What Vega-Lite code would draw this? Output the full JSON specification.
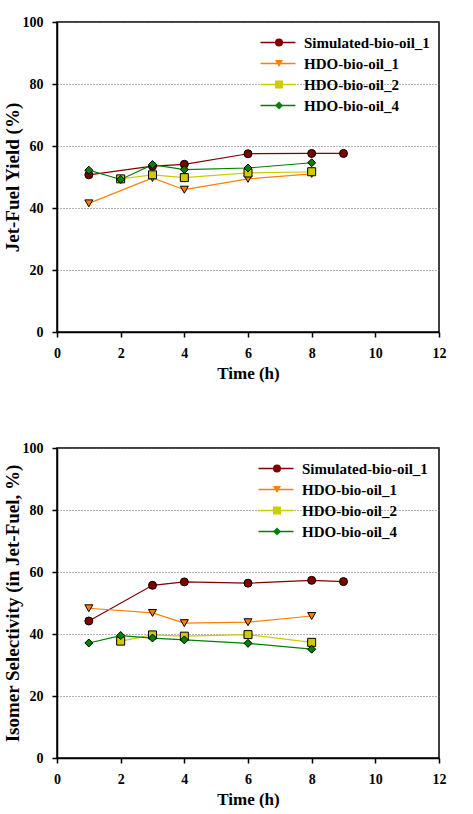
{
  "$schema": "https://vega.github.io/schema/vega-lite/v6.json",
  "background": "white",
  "padding": {"left": 2, "top": 14, "right": 5, "bottom": 0},
  "spacing": 58,
  "datasets": {
    "yield": [
      {"series": "Simulated-bio-oil_1", "time": 1, "value": 50.7},
      {"series": "Simulated-bio-oil_1", "time": 3, "value": 53.5},
      {"series": "Simulated-bio-oil_1", "time": 4, "value": 54.1},
      {"series": "Simulated-bio-oil_1", "time": 6, "value": 57.5},
      {"series": "Simulated-bio-oil_1", "time": 8, "value": 57.6},
      {"series": "Simulated-bio-oil_1", "time": 9, "value": 57.6},
      {"series": "HDO-bio-oil_1", "time": 1, "value": 41.5},
      {"series": "HDO-bio-oil_1", "time": 3, "value": 49.7},
      {"series": "HDO-bio-oil_1", "time": 4, "value": 45.9},
      {"series": "HDO-bio-oil_1", "time": 6, "value": 49.4},
      {"series": "HDO-bio-oil_1", "time": 8, "value": 51.0},
      {"series": "HDO-bio-oil_2", "time": 2, "value": 49.4},
      {"series": "HDO-bio-oil_2", "time": 3, "value": 50.7},
      {"series": "HDO-bio-oil_2", "time": 4, "value": 49.8},
      {"series": "HDO-bio-oil_2", "time": 6, "value": 51.3},
      {"series": "HDO-bio-oil_2", "time": 8, "value": 51.7},
      {"series": "HDO-bio-oil_4", "time": 1, "value": 52.2},
      {"series": "HDO-bio-oil_4", "time": 2, "value": 49.2},
      {"series": "HDO-bio-oil_4", "time": 3, "value": 54.0},
      {"series": "HDO-bio-oil_4", "time": 4, "value": 52.4},
      {"series": "HDO-bio-oil_4", "time": 6, "value": 52.9},
      {"series": "HDO-bio-oil_4", "time": 8, "value": 54.6}
    ],
    "iso": [
      {"series": "Simulated-bio-oil_1", "time": 1, "value": 44.2},
      {"series": "Simulated-bio-oil_1", "time": 3, "value": 55.7},
      {"series": "Simulated-bio-oil_1", "time": 4, "value": 56.8},
      {"series": "Simulated-bio-oil_1", "time": 6, "value": 56.4},
      {"series": "Simulated-bio-oil_1", "time": 8, "value": 57.3},
      {"series": "Simulated-bio-oil_1", "time": 9, "value": 56.9},
      {"series": "HDO-bio-oil_1", "time": 1, "value": 48.3},
      {"series": "HDO-bio-oil_1", "time": 3, "value": 46.8},
      {"series": "HDO-bio-oil_1", "time": 4, "value": 43.5},
      {"series": "HDO-bio-oil_1", "time": 6, "value": 43.8},
      {"series": "HDO-bio-oil_1", "time": 8, "value": 45.8},
      {"series": "HDO-bio-oil_2", "time": 2, "value": 37.7},
      {"series": "HDO-bio-oil_2", "time": 3, "value": 39.7},
      {"series": "HDO-bio-oil_2", "time": 4, "value": 39.3},
      {"series": "HDO-bio-oil_2", "time": 6, "value": 39.8},
      {"series": "HDO-bio-oil_2", "time": 8, "value": 37.3},
      {"series": "HDO-bio-oil_4", "time": 1, "value": 37.1},
      {"series": "HDO-bio-oil_4", "time": 2, "value": 39.5},
      {"series": "HDO-bio-oil_4", "time": 3, "value": 38.7},
      {"series": "HDO-bio-oil_4", "time": 4, "value": 38.1},
      {"series": "HDO-bio-oil_4", "time": 6, "value": 37.0},
      {"series": "HDO-bio-oil_4", "time": 8, "value": 35.1}
    ]
  },
  "config": {
    "view": {"stroke": "black", "strokeWidth": 1.5},
    "axis": {
      "labelFont": "Liberation Serif", "labelFontWeight": "bold", "labelFontSize": 14, "labelColor": "black",
      "titleFont": "Liberation Serif", "titleFontWeight": "bold", "titleColor": "black",
      "domainColor": "black", "domainWidth": 1.5, "tickColor": "black", "tickSize": 5, "tickWidth": 1.5,
      "gridColor": "#666666", "gridDash": [1, 2], "gridWidth": 1, "labelFlush": false, "labelOverlap": false
    },
    "legend": {
      "labelFont": "Liberation Serif", "labelFontWeight": "bold", "labelFontSize": 15, "labelColor": "black",
      "labelLimit": 300, "rowPadding": 5, "padding": 0, "symbolOpacity": 1
    }
  },
  "resolve": {
    "scale": {"color": "independent", "fill": "independent", "shape": "independent"},
    "legend": {"color": "independent", "fill": "independent", "shape": "independent"}
  },
  "vconcat": [
    {
      "width": 382, "height": 310,
      "data": {"name": "yield"},
      "encoding": {
        "x": {"field": "time", "type": "quantitative", "title": "Time (h)", "scale": {"domain": [0, 12]},
              "axis": {"values": [0, 2, 4, 6, 8, 10, 12], "grid": false, "titleFontSize": 17, "titlePadding": 5, "labelPadding": 9}},
        "y": {"field": "value", "type": "quantitative", "title": "Jet-Fuel Yield (%)", "scale": {"domain": [0, 100]},
              "axis": {"values": [0, 20, 40, 60, 80, 100], "grid": true, "titleFontSize": 19, "titlePadding": 0, "labelPadding": 9}}
      },
      "layer": [
        {
          "mark": {"type": "line", "strokeWidth": 1.2},
          "encoding": {
            "color": {"field": "series", "type": "nominal",
                      "sort": ["Simulated-bio-oil_1", "HDO-bio-oil_1", "HDO-bio-oil_2", "HDO-bio-oil_4"],
                      "scale": {"range": ["#800000", "#FF8000", "#CCCC00", "#008000"]},
                      "legend": {"title": null, "orient": "none", "legendX": 213.5, "legendY": 13, "symbolType": "M-3.5,0H3.5", "symbolSize": 100, "symbolStrokeWidth": 1.5, "labelOffset": 18.5}}
          }
        },
        {
          "mark": {"type": "point", "filled": true, "stroke": "black", "strokeWidth": 1, "size": 64, "opacity": 1},
          "encoding": {
            "fill": {"field": "series", "type": "nominal",
                     "scale": {"domain": ["Simulated-bio-oil_1", "HDO-bio-oil_1", "HDO-bio-oil_2", "HDO-bio-oil_4"], "range": ["#800000", "#FF8000", "#CCCC00", "#008000"]},
                     "legend": {"title": null, "orient": "none", "legendX": 214.5, "legendY": 13, "symbolSize": 64, "symbolStrokeColor": "black", "symbolStrokeWidth": 1, "labelExpr": "''"}},
            "shape": {"field": "series", "type": "nominal",
                      "scale": {"domain": ["Simulated-bio-oil_1", "HDO-bio-oil_1", "HDO-bio-oil_2", "HDO-bio-oil_4"], "range": ["circle", "triangle-down", "square", "diamond"]},
                      "legend": {"title": null, "orient": "none", "legendX": 214.5, "legendY": 13, "symbolSize": 64, "symbolStrokeColor": "black", "symbolStrokeWidth": 1, "labelExpr": "''"}}
          }
        }
      ]
    },
    {
      "width": 382, "height": 310,
      "data": {"name": "iso"},
      "encoding": {
        "x": {"field": "time", "type": "quantitative", "title": "Time (h)", "scale": {"domain": [0, 12]},
              "axis": {"values": [0, 2, 4, 6, 8, 10, 12], "grid": false, "titleFontSize": 17, "titlePadding": 5, "labelPadding": 9}},
        "y": {"field": "value", "type": "quantitative", "title": "Isomer Selectivity (in Jet-Fuel, %)", "scale": {"domain": [0, 100]},
              "axis": {"values": [0, 20, 40, 60, 80, 100], "grid": true, "titleFontSize": 19, "titlePadding": 0, "labelPadding": 9}}
      },
      "layer": [
        {
          "mark": {"type": "line", "strokeWidth": 1.2},
          "encoding": {
            "color": {"field": "series", "type": "nominal",
                      "sort": ["Simulated-bio-oil_1", "HDO-bio-oil_1", "HDO-bio-oil_2", "HDO-bio-oil_4"],
                      "scale": {"range": ["#800000", "#FF8000", "#CCCC00", "#008000"]},
                      "legend": {"title": null, "orient": "none", "legendX": 211.5, "legendY": 13, "symbolType": "M-3.5,0H3.5", "symbolSize": 100, "symbolStrokeWidth": 1.5, "labelOffset": 18.5}}
          }
        },
        {
          "mark": {"type": "point", "filled": true, "stroke": "black", "strokeWidth": 1, "size": 64, "opacity": 1},
          "encoding": {
            "fill": {"field": "series", "type": "nominal",
                     "scale": {"domain": ["Simulated-bio-oil_1", "HDO-bio-oil_1", "HDO-bio-oil_2", "HDO-bio-oil_4"], "range": ["#800000", "#FF8000", "#CCCC00", "#008000"]},
                     "legend": {"title": null, "orient": "none", "legendX": 212.5, "legendY": 13, "symbolSize": 64, "symbolStrokeColor": "black", "symbolStrokeWidth": 1, "labelExpr": "''"}},
            "shape": {"field": "series", "type": "nominal",
                      "scale": {"domain": ["Simulated-bio-oil_1", "HDO-bio-oil_1", "HDO-bio-oil_2", "HDO-bio-oil_4"], "range": ["circle", "triangle-down", "square", "diamond"]},
                      "legend": {"title": null, "orient": "none", "legendX": 212.5, "legendY": 13, "symbolSize": 64, "symbolStrokeColor": "black", "symbolStrokeWidth": 1, "labelExpr": "''"}}
          }
        }
      ]
    }
  ]
}
